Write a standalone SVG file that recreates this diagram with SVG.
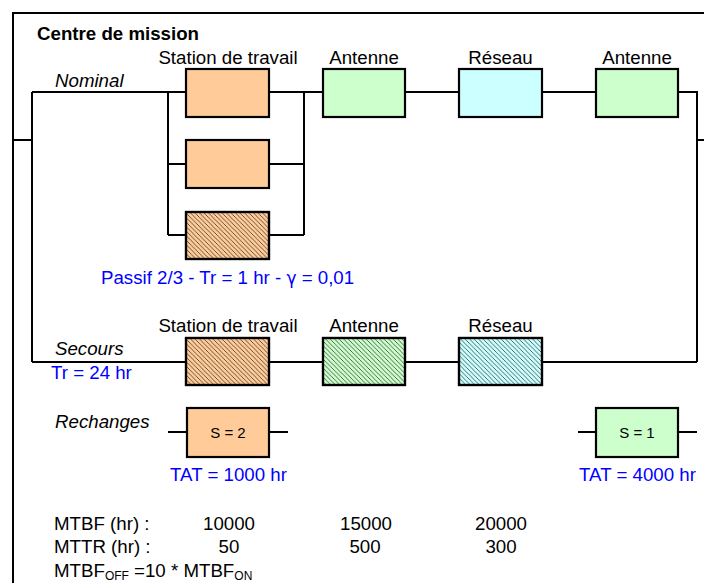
<svg xmlns="http://www.w3.org/2000/svg" width="704" height="583" viewBox="0 0 704 583">
<style>
text{font-family:"Liberation Sans",Arial,sans-serif;font-size:18.7px;fill:#000}
.b{font-weight:bold}
.i{font-style:italic}
.blue{fill:#0000FF}
.m{text-anchor:middle}
.s{font-size:15px}
.box{stroke:#000;stroke-width:2.2}
.or{fill:#FFCC99}.gr{fill:#CCFFCC}.cy{fill:#CCFFFF}
.ln{fill:none;stroke:#000;stroke-width:2}
</style>
<defs>
<pattern id="hatch" patternUnits="userSpaceOnUse" width="4.5" height="4.5">
<path d="M-1,-1 L5.5,5.5 M-1,3.5 L1,5.5 M3.5,-1 L5.5,1" stroke="#000" stroke-width="0.6"/>
</pattern>
</defs>
<rect width="704" height="583" fill="#fff"/>
<g id="frame">
<path class="ln" d="M13,583 V13 H704"/>
<text class="b" x="37" y="40">Centre de mission</text>
</g>
<g id="connectors">
<path class="ln" d="M13,140 H32 M32,92 V362 M32,92 H186 M168,92 V235 M168,164 H186 M168,235 H186 M269,92 H323 M269,164 H304 M269,235 H304 M304,92 V235 M405,92 H459 M542,92 H596 M678,92 H697 V362 M697,140 H704"/>
<path class="ln" d="M32,362 H186 M269,362 H323 M405,362 H459 M542,362 H697"/>
<path class="ln" d="M168,432 H187 M269,432 H288 M578,432 H596 M678,432 H697"/>
</g>
<g id="labels">
<text class="i" x="55" y="87">Nominal</text>
<text class="blue" x="101" y="284">Passif 2/3 - Tr = 1 hr - <tspan font-family="DejaVu Sans" font-size="17">γ</tspan> = 0,01</text>
<text class="i" x="55" y="355">Secours</text>
<text class="blue" x="51" y="379">Tr = 24 hr</text>
<text class="i" x="55" y="428">Rechanges</text>
<text x="54" y="530">MTBF (hr) :</text>
<text x="54" y="553">MTTR (hr) :</text>
<text x="54" y="577">MTBF<tspan font-size="12" dy="3">OFF</tspan><tspan dy="-3"> =10 * MTBF</tspan><tspan font-size="12" dy="3">ON</tspan></text>
<text class="m" x="229" y="530">10000</text>
<text class="m" x="366" y="530">15000</text>
<text class="m" x="501" y="530">20000</text>
<text class="m" x="229" y="553">50</text>
<text class="m" x="365" y="553">500</text>
<text class="m" x="501" y="553">300</text>
</g>
<g id="ws-nominal-1">
<text class="m" x="228" y="63.5">Station de travail</text>
<rect class="box or" x="186" y="69" width="83" height="48"/>
</g>
<g id="ws-nominal-2">
<rect class="box or" x="186" y="140" width="83" height="48"/>
</g>
<g id="ws-nominal-3">
<rect class="box or" x="186" y="212" width="83" height="47"/>
<rect x="186" y="212" width="83" height="47" fill="url(#hatch)" class="box"/>
</g>
<g id="antenne-nominal-1">
<text class="m" x="364" y="63.5">Antenne</text>
<rect class="box gr" x="323" y="69" width="82" height="48"/>
</g>
<g id="reseau-nominal">
<text class="m" x="500.5" y="63.5">Réseau</text>
<rect class="box cy" x="459" y="69" width="83" height="48"/>
</g>
<g id="antenne-nominal-2">
<text class="m" x="637" y="63.5">Antenne</text>
<rect class="box gr" x="596" y="69" width="82" height="48"/>
</g>
<g id="ws-secours">
<text class="m" x="228" y="331.5">Station de travail</text>
<rect class="box or" x="186" y="338" width="83" height="47"/>
<rect x="186" y="338" width="83" height="47" fill="url(#hatch)" class="box"/>
</g>
<g id="antenne-secours">
<text class="m" x="364" y="331.5">Antenne</text>
<rect class="box gr" x="323" y="338" width="82" height="47"/>
<rect x="323" y="338" width="82" height="47" fill="url(#hatch)" class="box"/>
</g>
<g id="reseau-secours">
<text class="m" x="500.5" y="331.5">Réseau</text>
<rect class="box cy" x="459" y="338" width="83" height="47"/>
<rect x="459" y="338" width="83" height="47" fill="url(#hatch)" class="box"/>
</g>
<g id="spare-ws">
<rect class="box or" x="187" y="408" width="82" height="49"/>
<text class="m s" x="228" y="438">S = 2</text>
<text class="m blue" x="228.5" y="481">TAT = 1000 hr</text>
</g>
<g id="spare-antenne">
<rect class="box gr" x="596" y="408" width="82" height="49"/>
<text class="m s" x="637" y="438">S = 1</text>
<text class="m blue" x="637.5" y="481">TAT = 4000 hr</text>
</g>
</svg>
